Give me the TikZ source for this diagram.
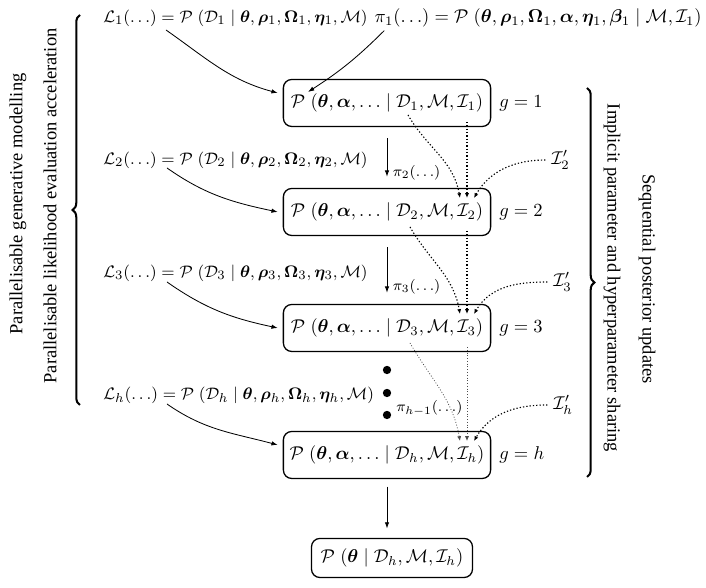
\documentclass[tikz,border=0pt]{standalone}
\usepackage{amsmath}
\usepackage{bm}
\usepackage{fontspec}
\setmainfont{Liberation Serif}
\usetikzlibrary{arrows.meta,decorations.pathreplacing,calc}
\begin{document}
\begin{tikzpicture}[x=0.5405pt,y=0.5405pt,
  pbox/.style={draw, rounded corners=4.5pt, line width=0.7pt, minimum width=112pt, minimum height=25.4pt, inner sep=2pt},
  lab/.style={inner sep=0pt},
  ltext/.style={inner sep=0pt, font=\fontsize{9.3}{11}\selectfont},
  ptext/.style={inner sep=0pt, font=\fontsize{9.6}{11}\selectfont},
  arr/.style={-{Latex[length=3.4pt,width=2.4pt]}, line width=0.45pt},
  dotarr/.style={-{Latex[length=2.6pt,width=2.2pt]}, line width=0.6pt, dash pattern=on 0.7pt off 1.1pt},
  lightdot/.style={-{Latex[length=2.6pt,width=2.2pt]}, line width=0.4pt, black!70, dash pattern=on 0.5pt off 1pt},
  smalllab/.style={inner sep=0pt, font=\footnotesize},
  bracedec/.style={decorate, line width=1.1pt},
  sidetext/.style={inner sep=0pt}]
\useasboundingbox (0,0) rectangle (706,588);

% boxes
\node[pbox] (b1) at (387,485) {$\mathcal{P}\;(\bm{\theta},\bm{\alpha},\ldots\mid\mathcal{D}_1,\mathcal{M},\mathcal{I}_1)$};
\node[pbox] (b2) at (387,376) {$\mathcal{P}\;(\bm{\theta},\bm{\alpha},\ldots\mid\mathcal{D}_2,\mathcal{M},\mathcal{I}_2)$};
\node[pbox] (b3) at (387,260) {$\mathcal{P}\;(\bm{\theta},\bm{\alpha},\ldots\mid\mathcal{D}_3,\mathcal{M},\mathcal{I}_3)$};
\node[pbox] (bh) at (387,133) {$\mathcal{P}\;(\bm{\theta},\bm{\alpha},\ldots\mid\mathcal{D}_h,\mathcal{M},\mathcal{I}_h)$};
\node[pbox, minimum width=87pt, minimum height=21.1pt] (bf) at (392,30) {$\mathcal{P}\;(\bm{\theta}\mid\mathcal{D}_h,\mathcal{M},\mathcal{I}_h)$};

% g labels
\node[lab, anchor=west] (g1) at (499,485) {$g=1$};
\node[lab, anchor=west] (g2) at (499,376) {$g=2$};
\node[lab, anchor=west] (g3) at (499,260) {$g=3$};
\node[lab, anchor=west] (gh) at (499,133) {$g=h$};

% likelihood texts
\node[ltext, anchor=west] (L1) at (103,570) {$\mathcal{L}_1(\ldots)=\mathcal{P}\;(\mathcal{D}_1\mid\bm{\theta},\bm{\rho}_1,\bm{\Omega}_1,\bm{\eta}_1,\mathcal{M})$};
\node[ltext, anchor=west] (L2) at (103,428) {$\mathcal{L}_2(\ldots)=\mathcal{P}\;(\mathcal{D}_2\mid\bm{\theta},\bm{\rho}_2,\bm{\Omega}_2,\bm{\eta}_2,\mathcal{M})$};
\node[ltext, anchor=west] (L3) at (103,315) {$\mathcal{L}_3(\ldots)=\mathcal{P}\;(\mathcal{D}_3\mid\bm{\theta},\bm{\rho}_3,\bm{\Omega}_3,\bm{\eta}_3,\mathcal{M})$};
\node[ltext, anchor=west] (Lh) at (103,193) {$\mathcal{L}_h(\ldots)=\mathcal{P}\;(\mathcal{D}_h\mid\bm{\theta},\bm{\rho}_h,\bm{\Omega}_h,\bm{\eta}_h,\mathcal{M})$};

% prior text
\node[ptext, anchor=east] (p1) at (702,570) {$\pi_1(\ldots)=\mathcal{P}\;(\bm{\theta},\bm{\rho}_1,\bm{\Omega}_1,\bm{\alpha},\bm{\eta}_1,\bm{\beta}_1\mid\mathcal{M},\mathcal{I}_1)$};

% I' labels
\node[lab, anchor=west] (i2) at (551,428) {$\mathcal{I}_2'$};
\node[lab, anchor=west] (i3) at (553,306) {$\mathcal{I}_3'$};
\node[lab, anchor=west] (ih) at (553,183) {$\mathcal{I}_h'$};

% dots and pi labels
\node[circle, fill, inner sep=0pt, minimum size=4.5pt] (d1) at (387,218) {};
\node[circle, fill, inner sep=0pt, minimum size=4.5pt] (d2) at (387,195) {};
\node[circle, fill, inner sep=0pt, minimum size=4.5pt] (d3) at (387,173) {};
\node[smalllab, anchor=west] (ph) at (396,180) {$\pi_{h-1}(\ldots)$};

% coordinates for connector ends
\coordinate (s1) at (166,558);
\coordinate (s2) at (167,420);
\coordinate (s3) at (167,306);
\coordinate (sh) at (167,184);
\coordinate (sp) at ($(p1.south west)+(10,-3)$);

% solid arrows
\draw[arr] (s1) to[out=-35,in=165] ($(b1.west)+(-5,10)$);
\draw[arr] (s2) to[out=-35,in=168] ($(b2.west)+(-5,0)$);
\draw[arr] (s3) to[out=-35,in=168] ($(b3.west)+(-5,0)$);
\draw[arr] (sh) to[out=-35,in=165] ($(bh.west)+(-5,10)$);
\draw[arr] (sp) to[bend left=6] ($(b1.center)+(-79,11)$);

\draw[arr, shorten <=6, shorten >=6] (b1.south) -- node[smalllab, right=3pt, pos=0.75] (p2) {$\pi_2(\ldots)$} (b2.north);
\draw[arr, shorten <=6, shorten >=6] (b2.south) -- node[smalllab, right=3pt, pos=0.75] (p3) {$\pi_3(\ldots)$} (b3.north);
\draw[arr, shorten <=4, shorten >=5] (bh.south) -- (bh.south |- bf.north);

% dotted arrows
\draw[dotarr] ($(b1.center)+(21,-12)$) to[out=-60,in=100] ($(b2.center)+(73,14)$);
\draw[dotarr] ($(b1.center)+(80,-19)$) -- ($(b2.center)+(80,14)$);
\draw[dotarr, shorten <=3] (i2.west) to[out=180,in=60] ($(b2.center)+(87,14)$);

\draw[dotarr] ($(b2.center)+(23,-15)$) to[out=-60,in=100] ($(b3.center)+(73,14)$);
\draw[dotarr] ($(b2.center)+(80,-19)$) -- ($(b3.center)+(80,14)$);
\draw[dotarr, shorten <=3] (i3.west) to[out=180,in=60] ($(b3.center)+(87,14)$);

\draw[lightdot] ($(b3.center)+(23,-15)$) to[out=-60,in=100] ($(bh.center)+(73,14)$);
\draw[lightdot] ($(b3.center)+(80,-19)$) -- ($(bh.center)+(80,14)$);
\draw[dotarr, shorten <=3] (ih.west) to[out=180,in=60] ($(bh.center)+(87,14)$);

% braces
\coordinate (lbb) at (80,183);
\coordinate (lbt) at (80,573);
\draw[bracedec, decoration={brace, amplitude=4pt}] (lbb) -- (lbt);
\coordinate (rbt) at (587,500);
\coordinate (rbb) at (587,111);
\draw[bracedec, decoration={brace, amplitude=4pt}] (rbt) -- (rbb);

% side texts
\node[sidetext, rotate=90] (t1) at (18,384) {Parallelisable generative modelling};
\node[sidetext, rotate=90] (t2) at (50,382) {Parallelisable likelihood evaluation acceleration};
\node[sidetext, rotate=-90] (t3) at (612,310) {Implicit parameter and hyperparameter sharing};
\node[sidetext, rotate=-90] (t4) at (647,309) {Sequential posterior updates};
\end{tikzpicture}
\end{document}
